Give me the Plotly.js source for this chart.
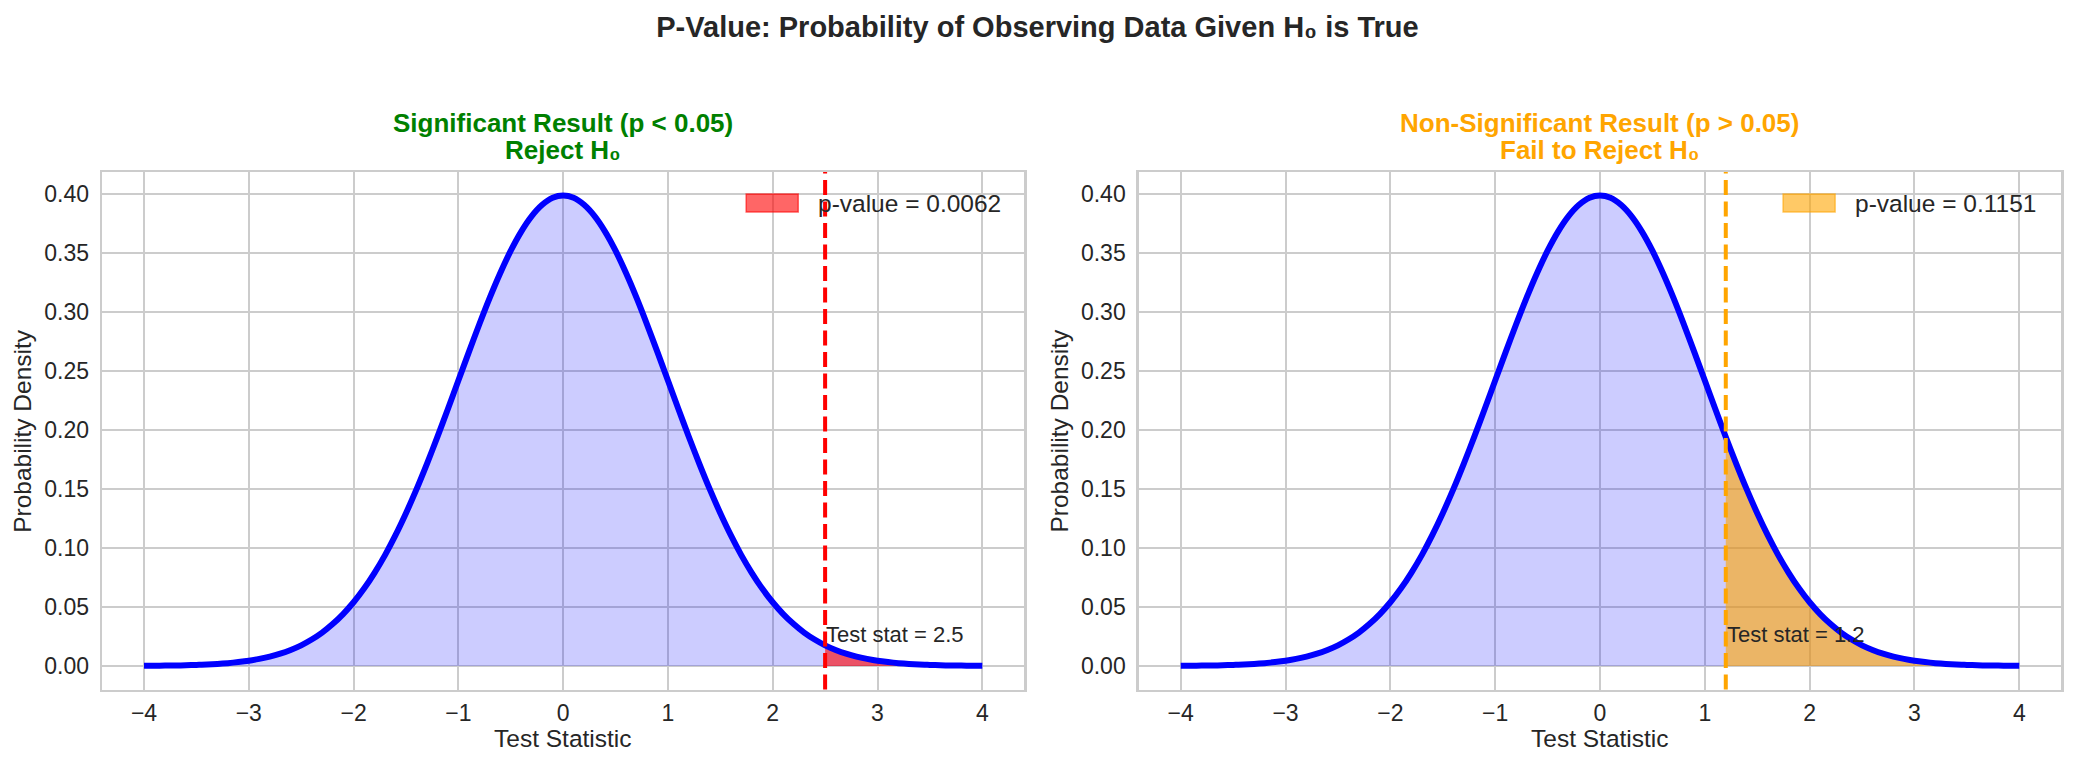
<!DOCTYPE html>
<html>
<head>
<meta charset="utf-8">
<script src="https://cdn.plot.ly/plotly-3.0.1.min.js"></script>
<style>
  html, body { margin: 0; padding: 0; background: #ffffff; }
  #chart { width: 2075px; height: 767px; }
</style>
</head>
<body>
<div id="chart"></div>
<script>
// Standard normal density under H0, sampled every 0.1 on [-4, 4]
const testStatGrid = [
  -4.0, -3.9, -3.8, -3.7, -3.6, -3.5, -3.4, -3.3, -3.2, -3.1,
  -3.0, -2.9, -2.8, -2.7, -2.6, -2.5, -2.4, -2.3, -2.2, -2.1,
  -2.0, -1.9, -1.8, -1.7, -1.6, -1.5, -1.4, -1.3, -1.2, -1.1,
  -1.0, -0.9, -0.8, -0.7, -0.6, -0.5, -0.4, -0.3, -0.2, -0.1,
   0.0,  0.1,  0.2,  0.3,  0.4,  0.5,  0.6,  0.7,  0.8,  0.9,
   1.0,  1.1,  1.2,  1.3,  1.4,  1.5,  1.6,  1.7,  1.8,  1.9,
   2.0,  2.1,  2.2,  2.3,  2.4,  2.5,  2.6,  2.7,  2.8,  2.9,
   3.0,  3.1,  3.2,  3.3,  3.4,  3.5,  3.6,  3.7,  3.8,  3.9,
   4.0
];
const densityValues = [
  0.0001, 0.0002, 0.0003, 0.0004, 0.0006, 0.0009, 0.0012, 0.0017, 0.0024, 0.0033,
  0.0044, 0.0060, 0.0079, 0.0104, 0.0136, 0.0175, 0.0224, 0.0283, 0.0355, 0.0440,
  0.0540, 0.0656, 0.0790, 0.0940, 0.1109, 0.1295, 0.1497, 0.1714, 0.1942, 0.2179,
  0.2420, 0.2661, 0.2897, 0.3123, 0.3332, 0.3521, 0.3683, 0.3814, 0.3910, 0.3970,
  0.3989, 0.3970, 0.3910, 0.3814, 0.3683, 0.3521, 0.3332, 0.3123, 0.2897, 0.2661,
  0.2420, 0.2179, 0.1942, 0.1714, 0.1497, 0.1295, 0.1109, 0.0940, 0.0790, 0.0656,
  0.0540, 0.0440, 0.0355, 0.0283, 0.0224, 0.0175, 0.0136, 0.0104, 0.0079, 0.0060,
  0.0044, 0.0033, 0.0024, 0.0017, 0.0012, 0.0009, 0.0006, 0.0004, 0.0003, 0.0002,
  0.0001
];

// One panel per scenario
const observedStats = [2.5, 1.2];
const pValues = [0.0062, 0.1151];
const panelTitles = [
  ["Significant Result (p &lt; 0.05)", "Reject H₀"],
  ["Non-Significant Result (p &gt; 0.05)", "Fail to Reject H₀"]
];
const mainTitle = "P-Value: Probability of Observing Data Given H₀ is True";
const xAxisLabel = "Test Statistic";
const yAxisLabel = "Probability Density";

// Axis ticks
const xTickVals = [-4, -3, -2, -1, 0, 1, 2, 3, 4];
const xTickText = ["−4", "−3", "−2", "−1", "0", "1", "2", "3", "4"];
const yTickVals = [0, 0.05, 0.10, 0.15, 0.20, 0.25, 0.30, 0.35, 0.40];
const yTickText = ["0.00", "0.05", "0.10", "0.15", "0.20", "0.25", "0.30", "0.35", "0.40"];

// Styling
const FONT = "Liberation Sans, Arial, Helvetica, sans-serif";
const TEXT = "#262626";
const GRID = "#cccccc";
const titleColors = ["#008000", "#ffa500"];
const tailFill = ["rgba(255,0,0,0.6)", "rgba(255,165,0,0.6)"];
const markerLine = ["#ff0000", "#ffa500"];

const W = 2075, H = 767;
const xDomains = [[102.1 / W, 1024.2 / W], [1138.8 / W, 2061.2 / W]];
const yDomain = [1 - 689.5 / H, 1 - 172 / H];

const traces = [];
const shapes = [];
const annotations = [];
const layout = {
  width: W, height: H,
  margin: {l: 0, r: 0, t: 0, b: 0},
  paper_bgcolor: "#ffffff",
  plot_bgcolor: "#ffffff",
  showlegend: false,
  font: {family: FONT, color: TEXT, size: 23},
  title: {
    text: "<b>" + mainTitle + "</b>",
    font: {family: FONT, size: 29, color: TEXT},
    x: 0.5, xanchor: "center",
    y: 1 - 37 / H, yanchor: "bottom", yref: "paper"
  }
};

observedStats.forEach(function (stat, i) {
  const xa = i === 0 ? "x" : "x2";
  const ya = i === 0 ? "y" : "y2";
  const xKey = i === 0 ? "xaxis" : "xaxis2";
  const yKey = i === 0 ? "yaxis" : "yaxis2";

  // Whole area under the null density
  traces.push({
    type: "scatter", mode: "none", xaxis: xa, yaxis: ya,
    x: testStatGrid, y: densityValues,
    line: {shape: "spline", smoothing: 0.8},
    fill: "tozeroy", fillcolor: "rgba(0,0,255,0.2)",
    hoverinfo: "skip"
  });

  // Upper tail beyond the observed statistic
  const tailX = [], tailY = [];
  testStatGrid.forEach(function (v, k) {
    if (v >= stat - 1e-9) { tailX.push(v); tailY.push(densityValues[k]); }
  });
  traces.push({
    type: "scatter", mode: "none", xaxis: xa, yaxis: ya,
    x: tailX, y: tailY,
    line: {shape: "spline", smoothing: 0.8},
    fill: "tozeroy", fillcolor: tailFill[i],
    name: "p-value = " + pValues[i].toFixed(4)
  });

  // Density curve
  traces.push({
    type: "scatter", mode: "lines", xaxis: xa, yaxis: ya,
    x: testStatGrid, y: densityValues,
    line: {color: "#0000ff", width: 6, shape: "spline", smoothing: 0.8}
  });

  const axisCommon = {
    showgrid: true, gridcolor: GRID, gridwidth: 2,
    zeroline: false,
    showline: true, linecolor: GRID, linewidth: 2.5, mirror: true,
    ticks: "outside", tickcolor: "rgba(0,0,0,0)",
    tickfont: {family: FONT, size: 23, color: TEXT}
  };
  layout[xKey] = Object.assign({}, axisCommon, {
    domain: xDomains[i], anchor: ya,
    range: [-4.4, 4.4], tickmode: "array",
    tickvals: xTickVals, ticktext: xTickText, ticklen: 1
  });
  layout[yKey] = Object.assign({}, axisCommon, {
    domain: yDomain, anchor: xa,
    range: [-0.01995, 0.41884], tickmode: "array",
    tickvals: yTickVals, ticktext: yTickText, ticklen: 6
  });

  // Observed test statistic
  shapes.push({
    type: "line", xref: xa, yref: ya + " domain",
    x0: stat, x1: stat, y0: 0, y1: 1,
    line: {color: markerLine[i], width: 4, dash: "15px,6.5px"}
  });
  annotations.push({
    xref: xa, yref: ya, x: stat, y: 0.02,
    xanchor: "left", yanchor: "bottom", yshift: -6, borderpad: 0,
    showarrow: false, text: "Test stat = " + stat,
    font: {family: FONT, size: 22, color: TEXT}
  });

  // Legend entry for the shaded tail
  shapes.push({
    type: "rect", xref: xa + " domain", yref: ya + " domain",
    x0: 0.6985, x1: 0.7549, y0: 0.9227, y1: 0.9575,
    fillcolor: tailFill[i], line: {color: tailFill[i], width: 1.5}
  });
  annotations.push({
    xref: xa + " domain", yref: ya + " domain", x: 0.7755, y: 0.940,
    xanchor: "left", yanchor: "middle", borderpad: 0,
    showarrow: false, text: "p-value = " + pValues[i].toFixed(4),
    font: {family: FONT, size: 24.5, color: TEXT}
  });

  // Panel titles
  const cx = (xDomains[i][0] + xDomains[i][1]) / 2;
  annotations.push({
    xref: "paper", yref: "paper", x: cx, y: 1 - 139 / H,
    xanchor: "center", yanchor: "bottom", showarrow: false, borderpad: 0,
    text: "<b>" + panelTitles[i][0] + "</b>",
    font: {family: FONT, size: 26, color: titleColors[i]}
  });
  annotations.push({
    xref: "paper", yref: "paper", x: cx, y: 1 - 166 / H,
    xanchor: "center", yanchor: "bottom", showarrow: false, borderpad: 0,
    text: "<b>" + panelTitles[i][1] + "</b>",
    font: {family: FONT, size: 26, color: titleColors[i]}
  });

  // Axis titles
  annotations.push({
    xref: "paper", yref: "paper", x: cx, y: 1 - 738 / H,
    xanchor: "center", yanchor: "middle", showarrow: false, borderpad: 0,
    text: xAxisLabel, font: {family: FONT, size: 24.5, color: TEXT}
  });
  annotations.push({
    xref: "paper", yref: "paper", x: (xDomains[i][0] * W - 79) / W,
    y: (yDomain[0] + yDomain[1]) / 2,
    xanchor: "center", yanchor: "middle", textangle: -90,
    showarrow: false, borderpad: 0,
    text: yAxisLabel, font: {family: FONT, size: 24.5, color: TEXT}
  });
});

layout.shapes = shapes;
layout.annotations = annotations;

Plotly.newPlot("chart", traces, layout, {displayModeBar: false, staticPlot: true});
</script>
</body>
</html>
